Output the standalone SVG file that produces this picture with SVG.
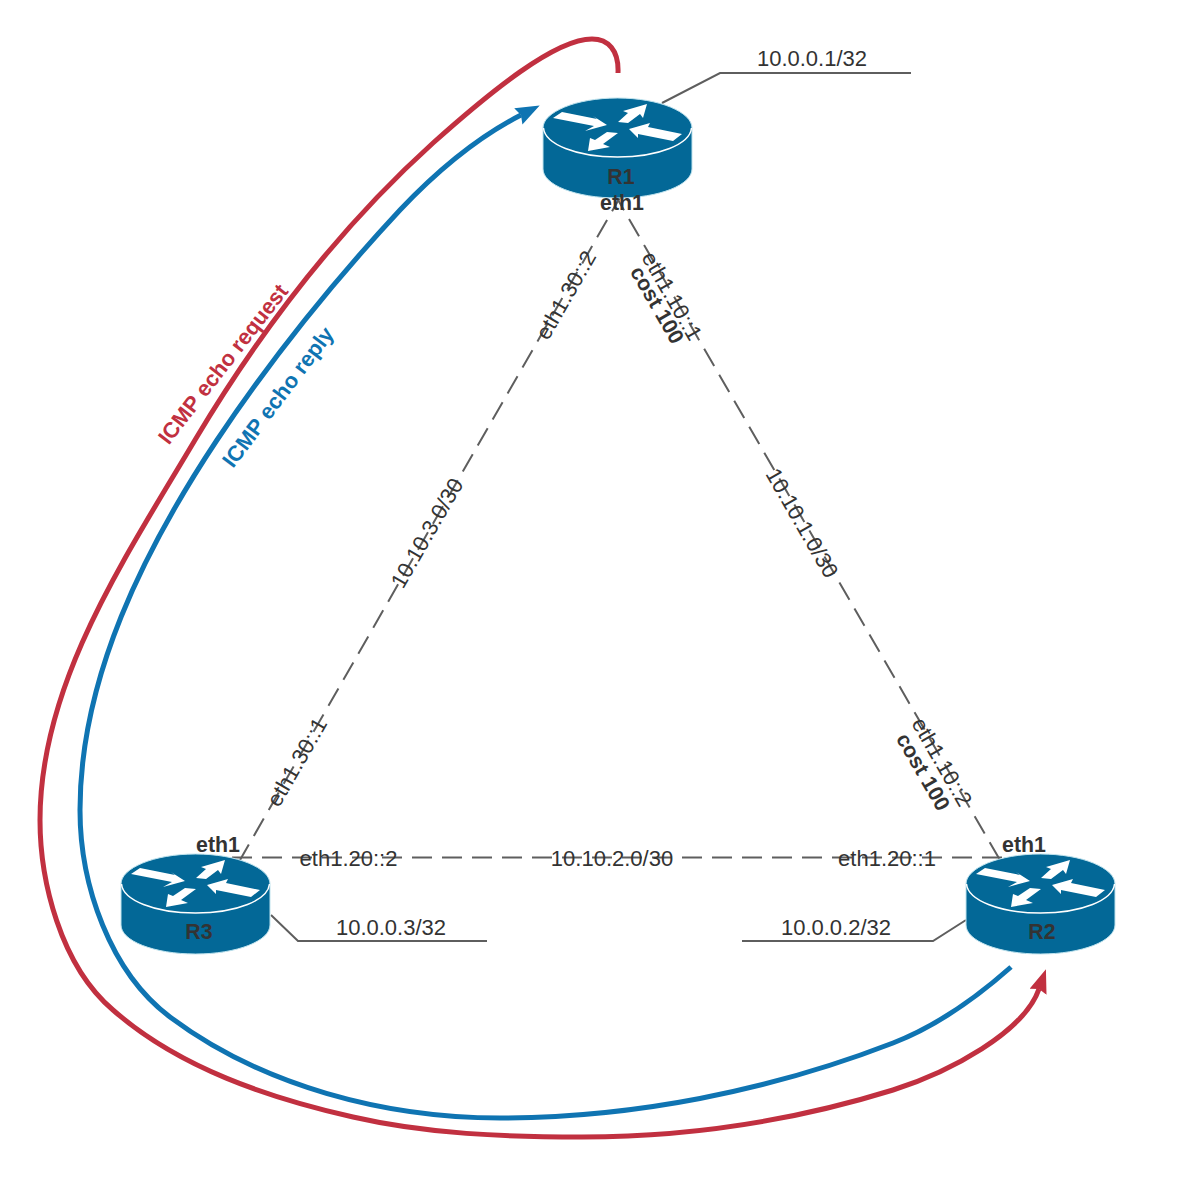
<svg xmlns="http://www.w3.org/2000/svg" xmlns:xlink="http://www.w3.org/1999/xlink" width="1204" height="1178" viewBox="0 0 1204 1178">
<style>
text{font-family:"Liberation Sans",Arial,sans-serif;font-size:22px;fill:#333;text-anchor:middle;dominant-baseline:central}
.b{font-weight:bold;font-size:21.33px}
.i{font-weight:bold;font-size:21.8px}
.lead{fill:none;stroke:#5e5e5e;stroke-width:2}
.link{fill:none;stroke:#5e5e5e;stroke-width:2;stroke-dasharray:20 10}
.flow{fill:none;stroke-width:5}
.red{stroke:#c13040}.blue{stroke:#0f74b2}
</style>
<defs>
<marker id="ar" markerUnits="userSpaceOnUse" markerWidth="30" markerHeight="24" refX="3" refY="9" orient="auto"><path d="M0 0L24 9L0 18L3 9Z" fill="#c13040"/></marker>
<marker id="ab" markerUnits="userSpaceOnUse" markerWidth="30" markerHeight="24" refX="3" refY="9" orient="auto"><path d="M0 0L24 9L0 18L3 9Z" fill="#0f74b2"/></marker>
<g id="router">
<path d="M0 30V71C0 87 33 100 74.500 100S149 87 149 71V30C149 14 116 0 74.500 0S0 14 0 30Z" fill="#036897" stroke="#bfe3ee" stroke-width="1"/>
<path d="M0.500 30C2 46 33 59 74.500 59S147 46 148.500 30" fill="none" stroke="#fff" stroke-width="1.500"/>
<path d="M10 20L19 14L54 21L50 18L64 27L42 33L51 28ZM104 6L80 13L85 15L75 24L85 25L97 16L100 20ZM86 31L95 40L95 36L130 43L139 36L105 29L107 25ZM45 53L67 49L60 46L75 35L64 34L52 42L47 40Z" fill="#fff"/>
</g>
</defs>
<g id="connectors">
<path class="link" d="M622 194L240 860"/>
<path class="link" d="M614 193L1000 860"/>
<path class="link" d="M232 857.500H1002"/>
<path class="lead" d="M662 103L720 73H911"/>
<path class="lead" d="M271 915L298 941H487"/>
<path class="lead" d="M966 920L933 941H742"/>
<path class="flow red" marker-end="url(#ar)" d="M618 73C619 50 608 39 592 39C555 39 490 92 433 143C339 228 260 331 195 440C125 558 40 683 40 820C40 880 60 965 113 1010C179 1068 269 1098 353 1117C427 1134 505 1137 582 1137C687 1137 793 1121 893 1090C950 1072 1024 1032 1039 989"/>
<path class="flow blue" marker-end="url(#ab)" d="M1011 967C976 998 937 1026 893 1043C769 1091 633 1118 500 1118C385 1118 262 1086 170 1017C110 972 80 885 80 810C80 678 144 550 217 440C271 359 333 282 400 210C435 173 476 138 521 115"/>
</g>
<g id="R1"><use href="#router" x="543" y="98"/><text class="b" x="621" y="177">R1</text><text class="b" x="622" y="203">eth1</text></g>
<g id="R2"><use href="#router" x="966" y="854"/><text class="b" x="1042" y="932">R2</text><text class="b" x="1024" y="845">eth1</text></g>
<g id="R3"><use href="#router" x="121" y="854"/><text class="b" x="199" y="932">R3</text><text class="b" x="218" y="845">eth1</text></g>
<g id="labels">
<text x="812" y="58">10.0.0.1/32</text>
<text x="391" y="927">10.0.0.3/32</text>
<text x="836" y="927">10.0.0.2/32</text>
<text x="348.500" y="858">eth1.20::2</text>
<text x="612" y="858">10.10.2.0/30</text>
<text x="887" y="858">eth1.20::1</text>
<text transform="translate(566 295) rotate(-60)">eth1.30::2</text>
<text transform="translate(427 533) rotate(-60)">10.10.3.0/30</text>
<text transform="translate(297 762) rotate(-60)">eth1.30::1</text>
<text transform="translate(672 296) rotate(60)">eth1.10::1</text>
<text class="b" transform="translate(657 305) rotate(60)">cost 100</text>
<text transform="translate(802 523) rotate(60)">10.10.1.0/30</text>
<text transform="translate(942 762) rotate(60)">eth1.10::2</text>
<text class="b" transform="translate(923 772) rotate(60)">cost 100</text>
<text class="i" style="fill:#c13040" transform="translate(223 364) rotate(-52)">ICMP echo request</text>
<text class="i" style="fill:#0f74b2" transform="translate(278 397) rotate(-53)">ICMP echo reply</text>
</g>
</svg>
